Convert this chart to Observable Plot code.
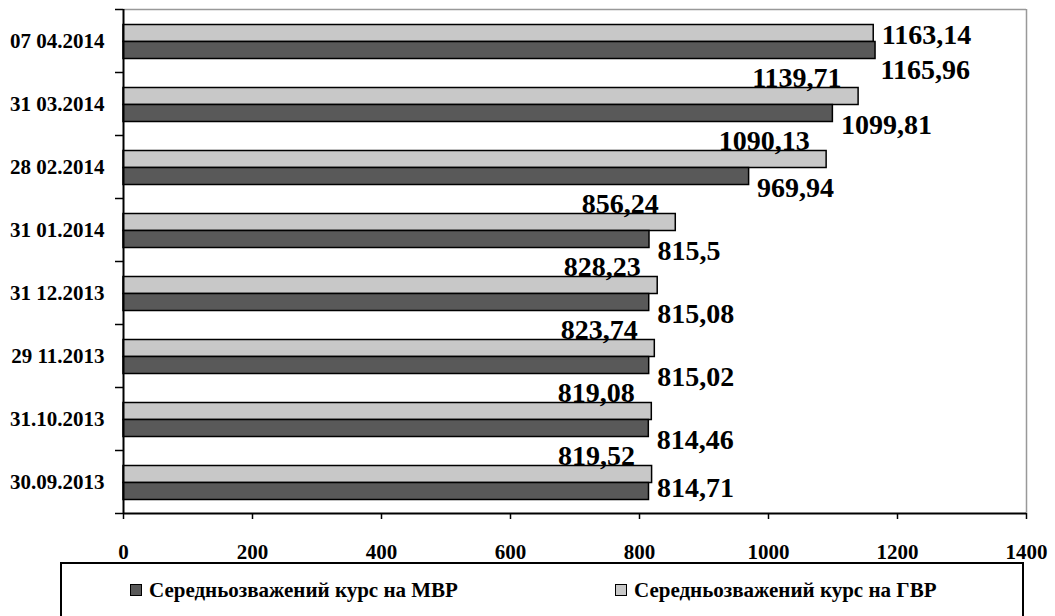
<!DOCTYPE html>
<html><head><meta charset="utf-8">
<script src="https://cdn.jsdelivr.net/npm/d3@7"></script>
<script src="https://cdn.jsdelivr.net/npm/@observablehq/plot@0.6"></script>
<style>
body{margin:0;background:#fff;font-family:"Liberation Serif","Times New Roman",serif;}
#wrap{position:relative;width:1055px;height:616px;overflow:hidden;}
#legend{position:absolute;left:60px;top:562px;width:964px;height:80px;border:2px solid #000;box-sizing:border-box;font:bold 21px "Liberation Serif","Times New Roman",serif;}
.item{position:absolute;top:14px;display:flex;align-items:center;line-height:24px;}
.sw{width:12px;height:12px;border:1px solid #000;margin-right:7px;box-sizing:border-box;}
</style></head>
<body><div id="wrap"><div id="chart"></div><div id="legend"></div></div>
<script>
const dates = ["07 04.2014","31 03.2014","28 02.2014","31 01.2014","31 12.2013","29 11.2013","31.10.2013","30.09.2013"];
const mvr = [1165.96,1099.81,969.94,815.5,815.08,815.02,814.46,814.71];
const gvr = [1163.14,1139.71,1090.13,856.24,828.23,823.74,819.08,819.52];
const seriesNames = ["Середньозважений курс на МВР","Середньозважений курс на ГВР"];
const seriesColors = ["#595959","#c8c8c8"];
const xTicks = [0,200,400,600,800,1000,1200,1400];

const serif = "'Liberation Serif','Times New Roman',serif";
const fmt = v => String(v).replace(".", ",");
const rowsM = dates.map((d,i)=>({date:d, value:mvr[i]}));
const rowsG = dates.map((d,i)=>({date:d, value:gvr[i]}));
const last = dates.length - 1;
const height = 560, mt = 9, mb = 47;
const half = (height - mt - mb) / dates.length / 2;
const labelFont = {fontFamily:serif, fontWeight:"bold", fontSize:28, fill:"#000"};

const chart = Plot.plot({
  width:1055, height, marginLeft:123, marginRight:29, marginTop:mt, marginBottom:mb,
  style:{fontFamily:serif, fontWeight:"bold", fontSize:"21px", color:"#000", background:"#fff", overflow:"visible"},
  x:{domain:[0,1400], ticks:xTicks, label:null},
  y:{domain:dates, padding:0, label:null},
  marks:[
    Plot.ruleY([0],{y:()=>dates[0], dy:-half, stroke:"#999", strokeWidth:1.5}),
    Plot.ruleX([1400],{stroke:"#999", strokeWidth:1.5}),
    Plot.barX(rowsG,{x:"value", y:"date", fill:seriesColors[1], stroke:"#000", strokeWidth:1.5, insetTop:15.5, insetBottom:30.5}),
    Plot.barX(rowsM,{x:"value", y:"date", fill:seriesColors[0], stroke:"#000", strokeWidth:1.5, insetTop:32.5, insetBottom:13.5}),
    Plot.ruleX([0],{stroke:"#000", strokeWidth:2}),
    Plot.ruleY([0],{y:()=>dates[last], dy:half, stroke:"#000", strokeWidth:2}),
    Plot.axisY({tickSize:0, tickPadding:19, fontSize:21}),
    Plot.axisY({tickSize:8, dy:-half, text:null, stroke:"#000", strokeWidth:1.5}),
    Plot.axisY({ticks:[dates[last]], tickSize:8, dy:half, text:null, stroke:"#000", strokeWidth:1.5}),
    Plot.axisX({ticks:xTicks, tickFormat:d=>String(d), tickSize:6, tickPadding:25, strokeWidth:1.5, fontSize:21}),
    Plot.text(rowsG.filter((d,i)=>i===0),{x:"value", y:"date", text:d=>fmt(d.value), textAnchor:"start", dx:8, dy:-6, ...labelFont}),
    Plot.text(rowsG.filter((d,i)=>i>0),{x:"value", y:"date", text:d=>fmt(d.value), textAnchor:"end", dx:-17, dy:-26, ...labelFont}),
    Plot.text(rowsM.filter((d,i)=>i===0),{x:"value", y:"date", text:d=>fmt(d.value), textAnchor:"start", dx:5, dy:29, ...labelFont}),
    Plot.text(rowsM.filter((d,i)=>i>0 && i<last),{x:"value", y:"date", text:d=>fmt(d.value), textAnchor:"start", dx:8, dy:21, ...labelFont}),
    Plot.text(rowsM.filter((d,i)=>i===last),{x:"value", y:"date", text:d=>fmt(d.value), textAnchor:"start", dx:8, dy:6, ...labelFont})
  ]
});
document.getElementById("chart").append(chart);

const leg = document.getElementById("legend");
const lefts = [68, 553];
seriesNames.forEach((n,i)=>{
  const it = document.createElement("div");
  it.className = "item"; it.style.left = lefts[i] + "px";
  const sw = document.createElement("span"); sw.className="sw"; sw.style.background = seriesColors[i];
  const t = document.createElement("span"); t.textContent = n;
  it.append(sw, t); leg.append(it);
});
</script></body></html>
